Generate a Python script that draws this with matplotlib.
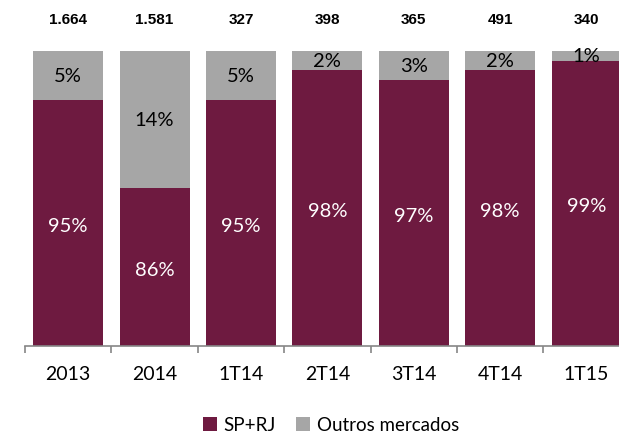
import matplotlib
matplotlib.use("Agg")
import matplotlib.pyplot as plt
from matplotlib.transforms import blended_transform_factory
from matplotlib.ticker import FixedLocator

categories = ["2013", "2014", "1T14", "2T14", "3T14", "4T14", "1T15"]
sp_rj = [95, 86, 95, 98, 97, 98, 99]
outros = [5, 14, 5, 2, 3, 2, 1]
totals = [1664, 1581, 327, 398, 365, 491, 340]

MAROON = "#6E1A40"
GREY = "#A6A6A6"
FONT = "Lato"

fig = plt.figure(figsize=(6.19, 4.35), dpi=100)
ax = fig.add_axes([25 / 619, (435 - 346.5) / 435, 7 * 86.4 / 619, (346.5 - 51.7) / 435])

x = list(range(len(categories)))
w = 0.81
ax.bar(x, sp_rj, width=w, color=MAROON, label="SP+RJ", zorder=2)
ax.bar(x, outros, width=w, bottom=sp_rj, color=GREY, label="Outros mercados", zorder=2)

ymin, ymax = 70, 100
ax.set_ylim(ymin, ymax)
ax.set_xlim(-0.5, len(categories) - 0.5)

for xi, a, b in zip(x, sp_rj, outros):
    ax.text(xi, (max(a, ymin) + ymin) / 2 - 0.25, f"{a}%", ha="center", va="center",
            color="white", fontsize=14.5, family=FONT)
    ax.text(xi, a + b / 2, f"{b}%", ha="center", va="center",
            color="black", fontsize=14.5, family=FONT)

trans = blended_transform_factory(ax.transData, fig.transFigure)
for xi, t in zip(x, totals):
    s = f"{t:,}".replace(",", ".")
    ax.text(xi, 1 - 19.5 / 435, s, transform=trans, ha="center", va="center",
            fontsize=11, fontweight="bold", family="Liberation Sans")

for s in ["left", "right", "top"]:
    ax.spines[s].set_visible(False)
ax.spines["bottom"].set_color("#868686")
ax.spines["bottom"].set_linewidth(1.2)
ax.set_yticks([])
ax.set_xticks(x)
ax.set_xticklabels(categories, fontsize=14, family=FONT)
ax.tick_params(axis="x", which="major", length=0, pad=14)
ax.xaxis.set_minor_locator(FixedLocator([i - 0.5 for i in range(len(categories) + 1)]))
ax.tick_params(axis="x", which="minor", length=5, width=1.2, color="#868686")

fig.legend(loc="center", bbox_to_anchor=(331 / 619, 1 - 426 / 435), ncol=2, frameon=False,
           prop={"family": FONT, "size": 13.5}, handlelength=0.75, handleheight=0.75,
           handletextpad=0.35, columnspacing=1.1, borderaxespad=0, borderpad=0)

fig.savefig("out.png", dpi=100)
